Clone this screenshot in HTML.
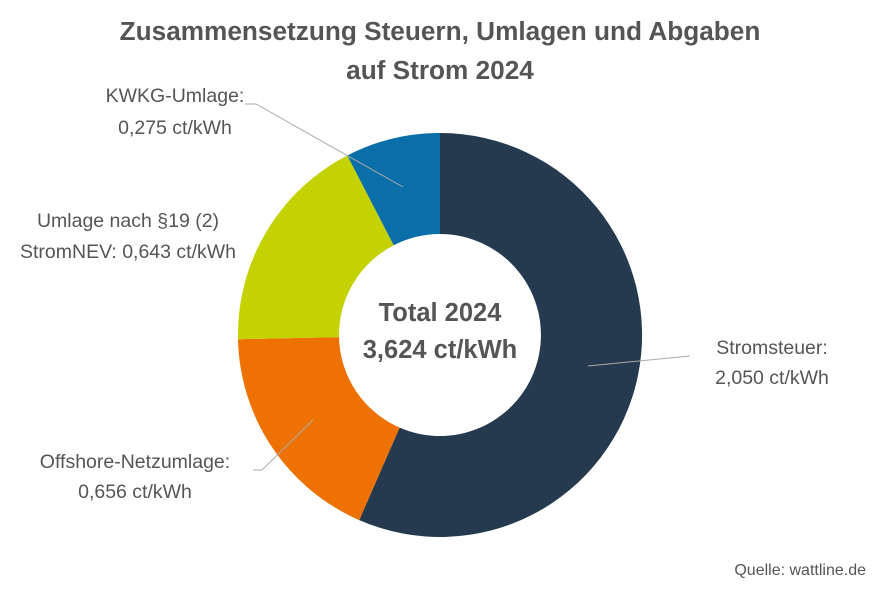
<!DOCTYPE html>
<html><head><meta charset="utf-8"><style>
body{margin:0;width:880px;height:587px;background:#fff;overflow:hidden;font-family:"Liberation Sans",sans-serif;}
</style></head><body>
<svg width="880" height="587" viewBox="0 0 880 587" xmlns="http://www.w3.org/2000/svg" font-family="Liberation Sans, sans-serif">
<text x="440" y="40" text-anchor="middle" font-size="26.2" font-weight="bold" fill="#555">Zusammensetzung Steuern, Umlagen und Abgaben</text>
<text x="440" y="79" text-anchor="middle" font-size="26.2" font-weight="bold" fill="#555">auf Strom 2024</text>
<g transform="translate(440,335)">
<path d="M0,-202 A202,202 0 1 1 -80.8,185.1 L-40.4,92.6 A101,101 0 1 0 0,-101 Z" fill="#263a4f"/>
<path d="M-80.8,185.1 A202,202 0 0 1 -202,4.2 L-101,2.1 A101,101 0 0 0 -40.4,92.6 Z" fill="#ee7203"/>
<path d="M-202,4.2 A202,202 0 0 1 -92.7,-179.5 L-46.3,-89.7 A101,101 0 0 0 -101,2.1 Z" fill="#c3d200"/>
<path d="M-92.7,-179.5 A202,202 0 0 1 0,-202 L0,-101 A101,101 0 0 0 -46.3,-89.7 Z" fill="#0a6fa8"/>
</g>
<g stroke="#aaa" stroke-width="1" fill="none">
<polyline points="245,104 256,104 403,187"/>
<polyline points="588,366 690,356"/>
<polyline points="313,420 262,470 253,470"/>
</g>
<text x="440" y="321" text-anchor="middle" font-size="25.5" font-weight="bold" fill="#555">Total 2024</text>
<text x="440" y="358" text-anchor="middle" font-size="25.5" font-weight="bold" fill="#555">3,624 ct/kWh</text>
<g font-size="19.5" fill="#555">
<text x="175" y="102" text-anchor="middle">KWKG-Umlage:</text>
<text x="175" y="134" text-anchor="middle">0,275 ct/kWh</text>
<text x="128" y="227" text-anchor="middle">Umlage nach §19 (2)</text>
<text x="128" y="258" text-anchor="middle">StromNEV: 0,643 ct/kWh</text>
<text x="772" y="354" text-anchor="middle">Stromsteuer:</text>
<text x="772" y="384" text-anchor="middle">2,050 ct/kWh</text>
<text x="135" y="468" text-anchor="middle">Offshore-Netzumlage:</text>
<text x="135" y="498" text-anchor="middle">0,656 ct/kWh</text>
<text x="866" y="575" text-anchor="end" font-size="16">Quelle: wattline.de</text>
</g>
</svg>
</body></html>
